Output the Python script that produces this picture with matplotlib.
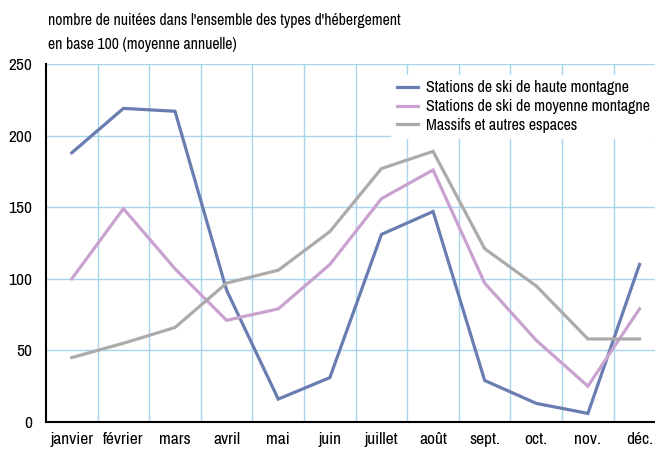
import matplotlib
matplotlib.use("Agg")
import matplotlib.pyplot as plt

months = ["janvier", "février", "mars", "avril", "mai", "juin", "juillet", "août",
          "sept.", "oct.", "nov.", "déc."]
haute = [188, 219, 217, 92, 16, 31, 131, 147, 29, 13, 6, 110]
moyenne = [100, 149, 107, 71, 79, 110, 156, 176, 97, 57, 25, 79]
massifs = [45, 55, 66, 97, 106, 133, 177, 189, 121, 95, 58, 58]
labels = ["Stations de ski de haute montagne",
          "Stations de ski de moyenne montagne",
          "Massifs et autres espaces"]
yticks = [0, 50, 100, 150, 200, 250]

plt.rcParams['font.family'] = ['Archivo Narrow', 'Liberation Sans', 'DejaVu Sans']

fig = plt.figure(figsize=(6.55, 4.49), dpi=100)
ax = fig.add_axes([46/655, 27/449, 1 - 46/655, (422-64)/449])

grid_c = "#a9d5ef"
x = list(range(len(months)))
for b in range(len(months) - 1):
    ax.axvline(b + 0.5, color=grid_c, lw=1.0, zorder=0)
for yv in yticks[1:]:
    ax.axhline(yv, color=grid_c, lw=1.0, zorder=0)

ax.plot(x, haute, color="#6a7db0", lw=2.3, label=labels[0], solid_joinstyle="miter")
ax.plot(x, moyenne, color="#c9a2d0", lw=2.3, label=labels[1], solid_joinstyle="miter")
ax.plot(x, massifs, color="#ababab", lw=2.3, label=labels[2], solid_joinstyle="miter")

ax.set_xlim(-0.5, 11.3)
ax.set_ylim(0, 250)
ax.set_xticks(x)
ax.set_xticklabels(months, fontsize=12.5)
ax.set_yticks(yticks)
ax.set_yticklabels([str(v) for v in yticks], fontsize=12.5)
ax.tick_params(length=0, pad=7)
ax.tick_params(axis='y', pad=10)
for s in ["top", "right"]:
    ax.spines[s].set_visible(False)
ax.spines["left"].set_linewidth(1.5)
ax.spines["bottom"].set_linewidth(1.5)

leg = ax.legend(loc="upper right", bbox_to_anchor=(1.0, 0.97), frameon=True,
                fontsize=11.5, handlelength=1.3, handletextpad=0.5,
                labelspacing=0.24, borderpad=0.35, borderaxespad=0.0,
                edgecolor="none", facecolor="white", framealpha=1.0)

fig.text(48/655, 1 - 21/449, "nombre de nuitées dans l'ensemble des types d'hébergement",
         fontsize=11.3, va="center", ha="left")
fig.text(48/655, 1 - 44/449, "en base 100 (moyenne annuelle)",
         fontsize=11.3, va="center", ha="left")

fig.savefig("out.png", dpi=100)
